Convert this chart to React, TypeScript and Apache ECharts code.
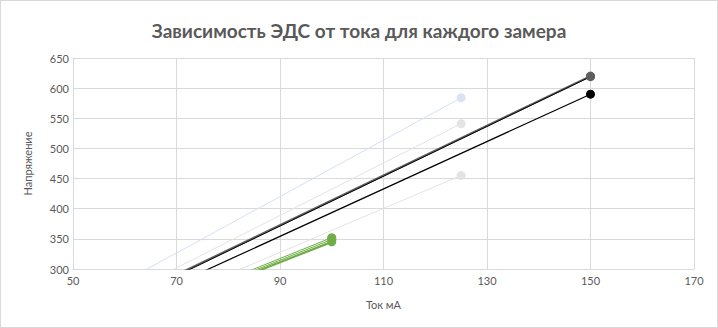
import React, { useEffect, useRef } from "react";
import * as echarts from "echarts";

const titleText = "Зависимость ЭДС от тока для каждого замера";
const xAxisName = "Ток мА";
const yAxisName = "Напряжение";

// Each series: [start point (below visible range), end point]
const seriesNames = ["Замер 1", "Замер 2", "Замер 3", "Замер 4", "Замер 5", "Замер 6", "Замер 7", "Замер 8", "Замер 9"];
const seriesX = [
  [50, 125],
  [50, 125],
  [50, 125],
  [50, 150],
  [50, 150],
  [50, 150],
  [50, 100],
  [50, 100],
  [50, 100],
];
const seriesY = [
  [233, 584],
  [215, 541],
  [182, 455],
  [208, 620],
  [206, 619],
  [197, 590],
  [179, 352],
  [177, 349],
  [176, 345],
];
const seriesColors = ["#d6e0f2", "#e3e3e3", "#e3e3e3", "#5f5f5f", "#000000", "#000000", "#70ad47", "#70ad47", "#70ad47"];
const markerColors = ["#dae3f3", "#e3e3e3", "#e3e3e3", "#5f5f5f", "#5f5f5f", "#000000", "#70ad47", "#70ad47", "#70ad47"];
const lineWidths = [1, 1, 1, 2, 1, 1.2, 1, 1, 2.2];

export default function App() {
  const ref = useRef<HTMLDivElement>(null);
  useEffect(() => {
    if (!ref.current) return;
    const chart = echarts.init(ref.current, null, { renderer: "svg" });
    const font = "Lato, 'Open Sans', sans-serif";
    chart.setOption({
      animation: false,
      title: {
        text: titleText,
        left: "center",
        top: 15,
        textStyle: { fontFamily: font, fontSize: 19, fontWeight: "bold", color: "#595959" },
      },
      grid: { left: 72, right: 23, top: 57, bottom: 58 },
      xAxis: {
        type: "value",
        min: 50,
        max: 170,
        interval: 20,
        name: xAxisName,
        nameLocation: "middle",
        nameGap: 30,
        nameTextStyle: { fontFamily: font, fontSize: 11, color: "#595959" },
        axisLine: { lineStyle: { color: "#d9d9d9" } },
        axisTick: { show: false },
        axisLabel: { fontFamily: font, fontSize: 11, color: "#595959", margin: 6 },
        splitLine: { lineStyle: { color: "#d9d9d9" } },
      },
      yAxis: {
        type: "value",
        min: 300,
        max: 650,
        interval: 50,
        name: yAxisName,
        nameLocation: "middle",
        nameGap: 40,
        nameTextStyle: { fontFamily: font, fontSize: 11, color: "#595959" },
        axisLine: { show: true, lineStyle: { color: "#d9d9d9" } },
        axisTick: { show: false },
        axisLabel: { fontFamily: font, fontSize: 11, color: "#595959", margin: 4 },
        splitLine: { lineStyle: { color: "#d9d9d9" } },
      },
      series: seriesNames.map((name, i) => ({
        name,
        type: "line",
        clip: true,
        data: seriesX[i].map((x, j) => ({
          value: [x, seriesY[i][j]],
          symbol: j === seriesX[i].length - 1 ? "circle" : "none",
        })),
        symbolSize: 9,
        showSymbol: true,
        lineStyle: { color: seriesColors[i], width: lineWidths[i] },
        itemStyle: { color: markerColors[i] },
        z: i,
      })),
    });
    return () => chart.dispose();
  }, []);
  return (
    <div
      ref={ref}
      style={{
        position: "fixed",
        left: 0,
        top: 0,
        width: 718,
        height: 328,
        boxSizing: "border-box",
        border: "1px solid #d9d9d9",
        background: "#fff",
      }}
    />
  );
}
